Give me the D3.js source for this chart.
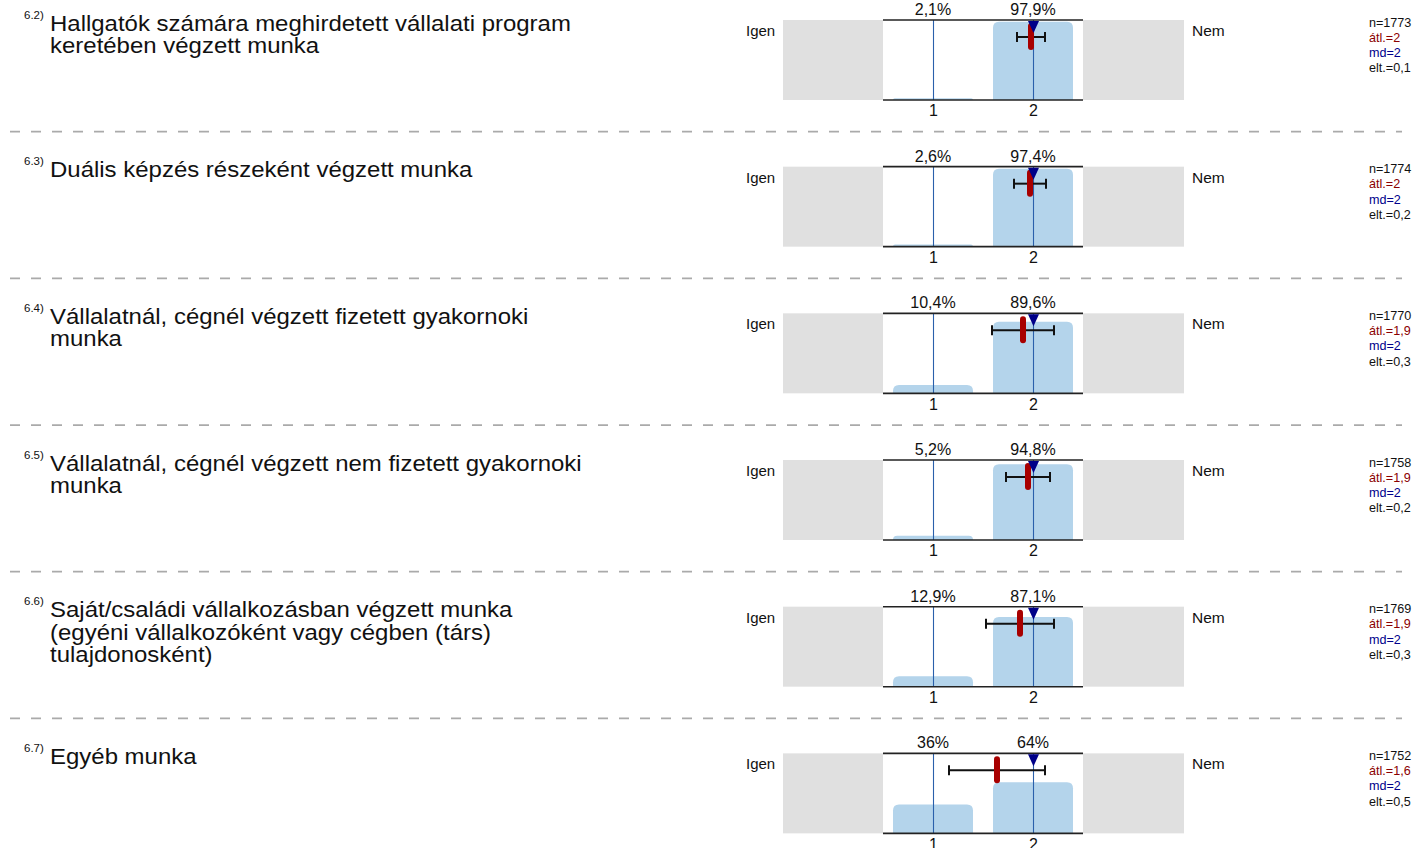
<!DOCTYPE html>
<html><head><meta charset="utf-8">
<script src="https://cdn.jsdelivr.net/npm/d3@7"></script>
<style>
html,body{margin:0;padding:0;background:#fff;}
svg{display:block;font-family:"Liberation Sans",Arial,sans-serif;}
</style></head>
<body>
<svg id="chart" width="1412" height="848"></svg>
<script>
// ---- data ----
const codes = ["6.2)", "6.3)", "6.4)", "6.5)", "6.6)", "6.7)"];
const titles = [
  ["Hallgatók számára meghirdetett vállalati program", "keretében végzett munka"],
  ["Duális képzés részeként végzett munka"],
  ["Vállalatnál, cégnél végzett fizetett gyakornoki", "munka"],
  ["Vállalatnál, cégnél végzett nem fizetett gyakornoki", "munka"],
  ["Saját/családi vállalkozásban végzett munka", "(egyéni vállalkozóként vagy cégben (társ)", "tulajdonosként)"],
  ["Egyéb munka"]
];
const categories = [1, 2];
const tickLabels = ["1", "2"];
const pctIgen = [2.1, 2.6, 10.4, 5.2, 12.9, 36];
const pctNem = [97.9, 97.4, 89.6, 94.8, 87.1, 64];
const pctLabelsIgen = ["2,1%", "2,6%", "10,4%", "5,2%", "12,9%", "36%"];
const pctLabelsNem = ["97,9%", "97,4%", "89,6%", "94,8%", "87,1%", "64%"];
const means = [1.98, 1.97, 1.90, 1.95, 1.87, 1.64];
const sds = [0.14, 0.16, 0.31, 0.22, 0.34, 0.48];
const medians = [2, 2, 2, 2, 2, 2];
const nVals = ["1773", "1774", "1770", "1758", "1769", "1752"];
const meanLabels = ["2", "2", "1,9", "1,9", "1,9", "1,6"];
const mdLabels = ["2", "2", "2", "2", "2", "2"];
const sdLabels = ["0,1", "0,2", "0,3", "0,2", "0,3", "0,5"];
const leftLabel = "Igen";
const rightLabel = "Nem";

// ---- layout ----
const svg = d3.select("#chart");
const top0 = 20, step = 146.67, plotH = 80;
const x = d3.scaleLinear().domain([0.5, 2.5]).range([883, 1083]);
const barW = 80;

codes.forEach((code, i) => {
  const top = top0 + i * step;
  const bottom = top + plotH;
  const y = d3.scaleLinear().domain([0, 100]).range([bottom, top]);
  const g = svg.append("g");

  // grey side areas
  g.append("rect").attr("x", 783).attr("y", top).attr("width", x(0.5) - 783).attr("height", plotH).attr("fill", "#e0e0e0");
  g.append("rect").attr("x", x(2.5)).attr("y", top).attr("width", 1184 - x(2.5)).attr("height", plotH).attr("fill", "#e0e0e0");

  // bars
  const vals = [pctIgen[i], pctNem[i]];
  categories.forEach((c, j) => {
    const h = bottom - y(vals[j]);
    const r = Math.min(6, h);
    const x0 = x(c) - barW / 2, x1 = x(c) + barW / 2, yt = y(vals[j]);
    const p = `M${x0},${bottom} L${x0},${yt + r} Q${x0},${yt} ${x0 + r},${yt} L${x1 - r},${yt} Q${x1},${yt} ${x1},${yt + r} L${x1},${bottom} Z`;
    g.append("path").attr("d", p).attr("fill", "#b4d4eb");
  });

  // vertical category lines
  categories.forEach(c => {
    g.append("line").attr("x1", x(c) + 0.5).attr("x2", x(c) + 0.5).attr("y1", top).attr("y2", bottom)
      .attr("stroke", "#2a60ab").attr("stroke-width", 1.1);
  });

  // top and bottom axis lines
  [top, bottom].forEach(yy => {
    g.append("line").attr("x1", x(0.5)).attr("x2", x(2.5)).attr("y1", yy).attr("y2", yy)
      .attr("stroke", "#222").attr("stroke-width", 1.6);
  });

  // percent labels
  const pl = [pctLabelsIgen[i], pctLabelsNem[i]];
  categories.forEach((c, j) => {
    g.append("text").attr("x", x(c)).attr("y", top - 5).attr("text-anchor", "middle")
      .attr("font-size", 16).attr("fill", "#111").text(pl[j]);
  });

  // tick labels
  const ax = d3.axisBottom(x).tickValues(categories).tickFormat((d, k) => tickLabels[k]).tickSize(0).tickPadding(5);
  const axg = g.append("g").attr("transform", `translate(0,${bottom})`).call(ax);
  axg.select(".domain").remove();
  axg.selectAll("text").attr("font-size", 16).attr("fill", "#111").attr("font-family", "Liberation Sans, Arial, sans-serif");

  // error bar (mean ± sd)
  const ey = top + 17;
  const lo = x(means[i] - sds[i]), hi = x(means[i] + sds[i]);
  g.append("line").attr("x1", lo).attr("x2", hi).attr("y1", ey).attr("y2", ey).attr("stroke", "#111").attr("stroke-width", 2);
  [lo, hi].forEach(xx => g.append("line").attr("x1", xx).attr("x2", xx).attr("y1", ey - 5).attr("y2", ey + 5).attr("stroke", "#111").attr("stroke-width", 2));

  // mean marker
  g.append("line").attr("x1", x(means[i])).attr("x2", x(means[i])).attr("y1", top + 6).attr("y2", top + 27)
    .attr("stroke", "#a80000").attr("stroke-width", 6).attr("stroke-linecap", "round");

  // median triangle
  const mx = x(medians[i]) + 0.5;
  g.append("path").attr("d", `M${mx - 5.5},${top + 1} L${mx + 5.5},${top + 1} L${mx},${top + 13} Z`).attr("fill", "#000088");

  // Igen / Nem
  g.append("text").attr("x", 746).attr("y", top + 16).attr("font-size", 15).attr("fill", "#111").text(leftLabel);
  g.append("text").attr("x", 1192).attr("y", top + 16).attr("font-size", 15.5).attr("fill", "#111").text(rightLabel);

  // stats
  const st = [["n=" + nVals[i], "#111"], ["átl.=" + meanLabels[i], "#8b0000"], ["md=" + mdLabels[i], "#00008b"], ["elt.=" + sdLabels[i], "#111"]];
  st.forEach((s, k) => {
    g.append("text").attr("x", 1369).attr("y", top + 6.5 + k * 15.3).attr("font-size", 12.6).attr("fill", s[1]).text(s[0]);
  });

  // question code and title
  g.append("text").attr("x", 24).attr("y", top - 1.5).attr("font-size", 11.5).attr("fill", "#111").text(code);
  titles[i].forEach((line, k) => {
    g.append("text").attr("transform", `translate(50,${top + 10.5 + k * 22.5}) scale(1.09,1)`)
      .attr("font-size", 22).attr("fill", "#111").text(line);
  });

  // separator
  if (i < codes.length - 1) {
    g.append("line").attr("x1", 10).attr("x2", 1402).attr("y1", top + 111.7).attr("y2", top + 111.7)
      .attr("stroke", "#aaaaaa").attr("stroke-width", 1.8).attr("stroke-dasharray", "10,11");
  }
});
</script>
</body></html>
